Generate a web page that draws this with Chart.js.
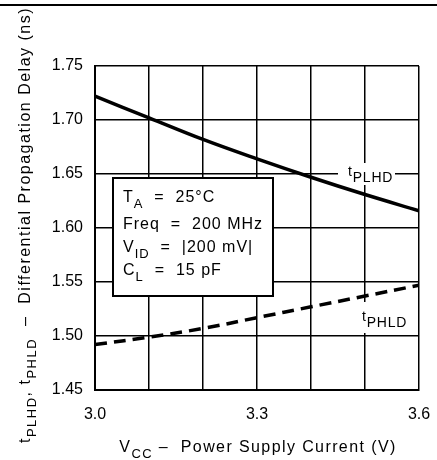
<!DOCTYPE html>
<html>
<head>
<meta charset="utf-8">
<script src="https://cdn.jsdelivr.net/npm/chart.js@4.4.1/dist/chart.umd.min.js"></script>
<style>
  html, body { margin: 0; padding: 0; background: #fff; }
  #wrap { width: 437px; height: 460px; }
</style>
</head>
<body>
<div id="wrap"><canvas id="chart" width="437" height="460"></canvas></div>
<script>
const vcc = [3.0, 3.1, 3.2, 3.3, 3.4, 3.5, 3.6];
const tPLHD = [1.722, 1.702, 1.682, 1.664, 1.647, 1.631, 1.616];
const tPHLD = [1.492, 1.499, 1.507, 1.517, 1.527, 1.537, 1.547];
const xTickLabels = ['3.0', '', '', '3.3', '', '', '3.6'];
const yTickLabels = ['1.45', '1.50', '1.55', '1.60', '1.65', '1.70', '1.75'];

const FONT = '"Liberation Sans", Arial, sans-serif';

// text pieces: [text, isSub]
function richWidth(ctx, segs, size, subSize) {
    let w = 0;
    segs.forEach(s => {
        ctx.font = (s[1] ? subSize : size) + 'px ' + FONT;
        w += ctx.measureText(s[0]).width;
    });
    return w;
}

function drawRich(ctx, segs, x, y, align, size, subSize, subDrop, spacing) {
    ctx.letterSpacing = (spacing || 0) + 'px';
    let cx = x;
    if (align === 'center') cx = x - richWidth(ctx, segs, size, subSize) / 2;
    ctx.textAlign = 'left';
    ctx.textBaseline = 'alphabetic';
    ctx.fillStyle = '#000';
    segs.forEach(s => {
        ctx.font = (s[1] ? subSize : size) + 'px ' + FONT;
        ctx.fillText(s[0], cx, y + (s[1] ? subDrop : 0));
        cx += ctx.measureText(s[0]).width;
    });
    ctx.letterSpacing = '0px';
}

const decor = {
    id: 'decor',
    beforeDraw(chart) {
        const ctx = chart.ctx;
        ctx.save();
        ctx.fillStyle = '#fff';
        ctx.fillRect(0, 0, chart.width, chart.height);
        ctx.restore();
    },
    beforeDatasetsDraw(chart) {
        const ctx = chart.ctx;
        ctx.save();
        // label backgrounds break the grid
        ctx.fillStyle = '#fff';
        ctx.fillRect(338, 163, 57, 22);
        ctx.fillRect(358, 302, 47, 31);

        // conditions box
        ctx.fillRect(113, 178, 160, 118);
        ctx.strokeStyle = '#000';
        ctx.lineWidth = 2;
        ctx.strokeRect(113, 178, 160, 118);

        drawRich(ctx, [['T', 0], ['A', 1], ['  =  25°C', 0]], 123, 202, 'left', 16, 13, 6, 1);
        drawRich(ctx, [['Freq  =  200 MHz', 0]], 123, 229, 'left', 16, 13, 6, 1);
        drawRich(ctx, [['V', 0], ['ID', 1], ['  =  |200 mV|', 0]], 123, 252, 'left', 16, 13, 6, 1);
        drawRich(ctx, [['C', 0], ['L', 1], ['  =  15 pF', 0]], 123, 275, 'left', 16, 13, 6, 1);

        drawRich(ctx, [['t', 0], ['PLHD', 1]], 348, 176, 'left', 14, 14, 6, 0.8);
        drawRich(ctx, [['t', 0], ['PHLD', 1]], 362, 321, 'left', 14, 14, 6, 0.8);
        ctx.restore();
    },
    afterDraw(chart) {
        const ctx = chart.ctx;
        ctx.save();
        // top rule
        ctx.strokeStyle = '#000';
        ctx.lineWidth = 2;
        ctx.beginPath();
        ctx.moveTo(0, 5);
        ctx.lineTo(chart.width, 5);
        ctx.stroke();

        // x title
        drawRich(ctx, [['V', 0], ['CC', 1], [' \u2013  Power Supply Current (V)', 0]],
            258, 452, 'center', 16, 13, 6, 1.4);

        // y title
        ctx.translate(30, 225);
        ctx.rotate(-Math.PI / 2);
        drawRich(ctx, [['t', 0], ['PLHD', 1], [', t', 0], ['PHLD', 1],
            ['  \u2013  Differential Propagation Delay (ns)', 0]],
            0, 0, 'center', 16, 13, 6, 1.5);
        ctx.restore();
    }
};

new Chart(document.getElementById('chart'), {
    type: 'line',
    plugins: [decor],
    data: {
        datasets: [{
            label: 'tPLHD',
            data: vcc.map((v, i) => ({ x: v, y: tPLHD[i] })),
            borderColor: '#000',
            borderWidth: 3.5,
            pointRadius: 0,
            tension: 0.4,
            fill: false
        }, {
            label: 'tPHLD',
            data: vcc.map((v, i) => ({ x: v, y: tPHLD[i] })),
            borderColor: '#000',
            borderWidth: 3.5,
            borderDash: [12, 7],
            pointRadius: 0,
            tension: 0.4,
            fill: false
        }]
    },
    options: {
        responsive: false,
        animation: false,
        devicePixelRatio: 1,
        layout: { padding: { left: 0, right: 18, top: 66, bottom: 0 } },
        plugins: {
            legend: { display: false },
            tooltip: { enabled: false }
        },
        scales: {
            x: {
                type: 'linear',
                min: 3.0,
                max: 3.6,
                afterFit: (scale) => {
                    scale.height = 70;
                    scale.paddingLeft = 0;
                    scale.paddingRight = 0;
                },
                ticks: {
                    stepSize: 0.1,
                    padding: 15,
                    color: '#000',
                    font: { family: FONT, size: 16 },
                    autoSkip: false,
                    maxRotation: 0,
                    callback: (v, i) => xTickLabels[i]
                },
                grid: { color: '#000', lineWidth: 1.5, drawTicks: false },
                border: { color: '#000', width: 2 }
            },
            y: {
                min: 1.45,
                max: 1.75,
                afterFit: (scale) => {
                    scale.width = 95;
                    scale.paddingTop = 0;
                    scale.paddingBottom = 0;
                },
                ticks: {
                    stepSize: 0.05,
                    padding: 12,
                    color: '#000',
                    font: { family: FONT, size: 16 },
                    autoSkip: false,
                    callback: (v, i) => yTickLabels[i]
                },
                grid: { color: '#000', lineWidth: 1.5, drawTicks: false },
                border: { color: '#000', width: 2 }
            }
        }
    }
});
</script>
</body>
</html>
